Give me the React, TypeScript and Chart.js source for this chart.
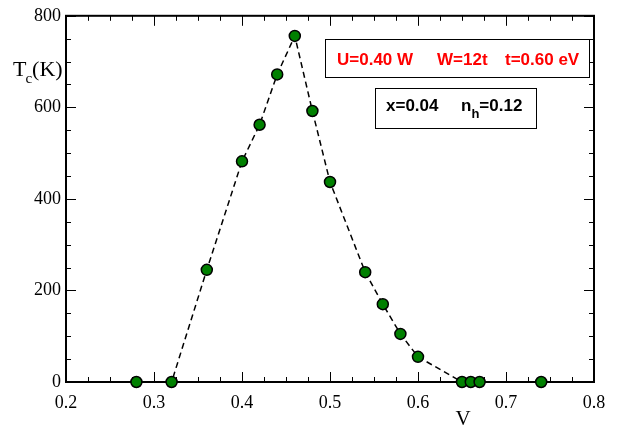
import React, { useEffect, useRef } from "react";
import { Chart, registerables } from "chart.js";

Chart.register(...registerables);

const vValues = [0.28, 0.32, 0.36, 0.40, 0.42, 0.44, 0.46, 0.48, 0.50, 0.54, 0.56, 0.58, 0.60, 0.65, 0.66, 0.67, 0.74];
const tcValues = [0, 0, 245, 482, 562, 672, 756, 592, 437, 240, 170, 105, 55, 0, 0, 0, 0];
const xTicks = [0.2, 0.3, 0.4, 0.5, 0.6, 0.7, 0.8];
const yTicks = [0, 200, 400, 600, 800];

const SERIF = "'Liberation Serif', 'Times New Roman', serif";
const SANS = "'Liberation Sans', Arial, sans-serif";

const framePlugin = {
  id: "frame",
  beforeDatasetsDraw(chart: any) {
    const { ctx, chartArea: a, scales } = chart;
    const xs = scales.x;
    const ys = scales.y;
    ctx.save();
    ctx.strokeStyle = "#000";
    ctx.lineWidth = 1;
    // x ticks (bottom and top), inward
    for (let i = 0; i <= 24; i++) {
      const v = 0.2 + i * 0.025;
      const px = Math.round(xs.getPixelForValue(v)) + 0.5;
      const len = i % 4 === 0 ? 10 : 5;
      ctx.beginPath();
      ctx.moveTo(px, a.bottom);
      ctx.lineTo(px, a.bottom - len);
      ctx.moveTo(px, a.top);
      ctx.lineTo(px, a.top + len);
      ctx.stroke();
    }
    for (let i = 0; i <= 16; i++) {
      const v = i * 50;
      const py = Math.round(ys.getPixelForValue(v)) + 0.5;
      const len = i % 4 === 0 ? 10 : 5;
      ctx.beginPath();
      ctx.moveTo(a.left, py);
      ctx.lineTo(a.left + len, py);
      ctx.moveTo(a.right, py);
      ctx.lineTo(a.right - len, py);
      ctx.stroke();
    }
    ctx.lineWidth = 2;
    ctx.strokeRect(a.left, a.top, a.right - a.left, a.bottom - a.top);
    ctx.restore();
  },
  afterDraw(chart: any) {
    const { ctx } = chart;
    ctx.save();
    // axis titles
    ctx.fillStyle = "#000";
    ctx.textBaseline = "alphabetic";
    ctx.textAlign = "left";
    ctx.font = `22px ${SERIF}`;
    ctx.fillText("T", 13, 76);
    const tw = ctx.measureText("T").width;
    ctx.font = `15px ${SERIF}`;
    ctx.fillText("c", 13 + tw - 1, 83);
    const cw = ctx.measureText("c").width;
    ctx.font = `22px ${SERIF}`;
    ctx.fillText("(K)", 13 + tw - 1 + cw, 76);

    ctx.font = `21px ${SERIF}`;
    ctx.textAlign = "center";
    ctx.fillText("V", 463, 425);

    // red box
    ctx.lineWidth = 1;
    ctx.strokeStyle = "#000";
    ctx.fillStyle = "#fff";
    ctx.fillRect(325, 39, 264, 38);
    ctx.strokeRect(325.5, 39.5, 264, 38);
    ctx.fillStyle = "#ff0000";
    ctx.textAlign = "left";
    ctx.font = `bold 17px ${SANS}`;
    ctx.fillText("U=0.40 W", 337, 65);
    ctx.fillText("W=12t", 437, 65);
    ctx.fillText("t=0.60 eV", 505, 65);

    // black box
    ctx.fillStyle = "#fff";
    ctx.fillRect(375, 88, 161, 40);
    ctx.strokeRect(375.5, 88.5, 161, 40);
    ctx.fillStyle = "#000";
    ctx.font = `bold 17px ${SANS}`;
    ctx.fillText("x=0.04", 386, 111);
    ctx.fillText("n", 461, 111);
    const nw = ctx.measureText("n").width;
    ctx.font = `bold 13px ${SANS}`;
    ctx.fillText("h", 461 + nw, 118);
    const hw = ctx.measureText("h").width;
    ctx.font = `bold 17px ${SANS}`;
    ctx.fillText("=0.12", 461 + nw + hw, 111);
    ctx.restore();
  },
};

export default function App() {
  const ref = useRef<HTMLCanvasElement | null>(null);
  useEffect(() => {
    if (!ref.current) return;
    const chart = new Chart(ref.current, {
      type: "scatter",
      data: {
        datasets: [
          {
            data: vValues.map((v, i) => ({ x: v, y: tcValues[i] })),
            showLine: true,
            borderColor: "#000",
            borderWidth: 1.5,
            borderDash: [6, 4],
            pointRadius: 5.5,
            pointBorderWidth: 1.5,
            pointBackgroundColor: "#008000",
            pointBorderColor: "#000",
            clip: false,
          } as any,
        ],
      },
      options: {
        animation: false,
        responsive: false,
        events: [],
        layout: { padding: { top: 12, right: 24, left: 0, bottom: 0 } },
        plugins: { legend: { display: false }, tooltip: { enabled: false } },
        scales: {
          x: {
            type: "linear",
            min: 0.2,
            max: 0.8,
            afterBuildTicks: (s: any) => {
              s.ticks = xTicks.map((v) => ({ value: v }));
            },
            afterFit: (s: any) => {
              s.height = 46;
            },
            grid: { display: false, drawTicks: false },
            border: { display: false },
            ticks: {
              color: "#000",
              padding: 10,
              font: { family: SERIF, size: 18 },
              callback: (v: any) => Number(v).toFixed(1),
            },
          },
          y: {
            type: "linear",
            min: 0,
            max: 800,
            afterBuildTicks: (s: any) => {
              s.ticks = yTicks.map((v) => ({ value: v }));
            },
            afterFit: (s: any) => {
              s.width = 66;
            },
            grid: { display: false, drawTicks: false },
            border: { display: false },
            ticks: {
              color: "#000",
              padding: 5,
              font: { family: SERIF, size: 18 },
              callback: (v: any) => String(v),
            },
          },
        },
      },
      plugins: [framePlugin],
    });
    return () => chart.destroy();
  }, []);
  return (
    <div style={{ position: "absolute", left: 0, top: 0, width: 618, height: 428, background: "#fff" }}>
      <canvas ref={ref} width={618} height={428} style={{ width: 618, height: 428, display: "block" }} />
    </div>
  );
}
